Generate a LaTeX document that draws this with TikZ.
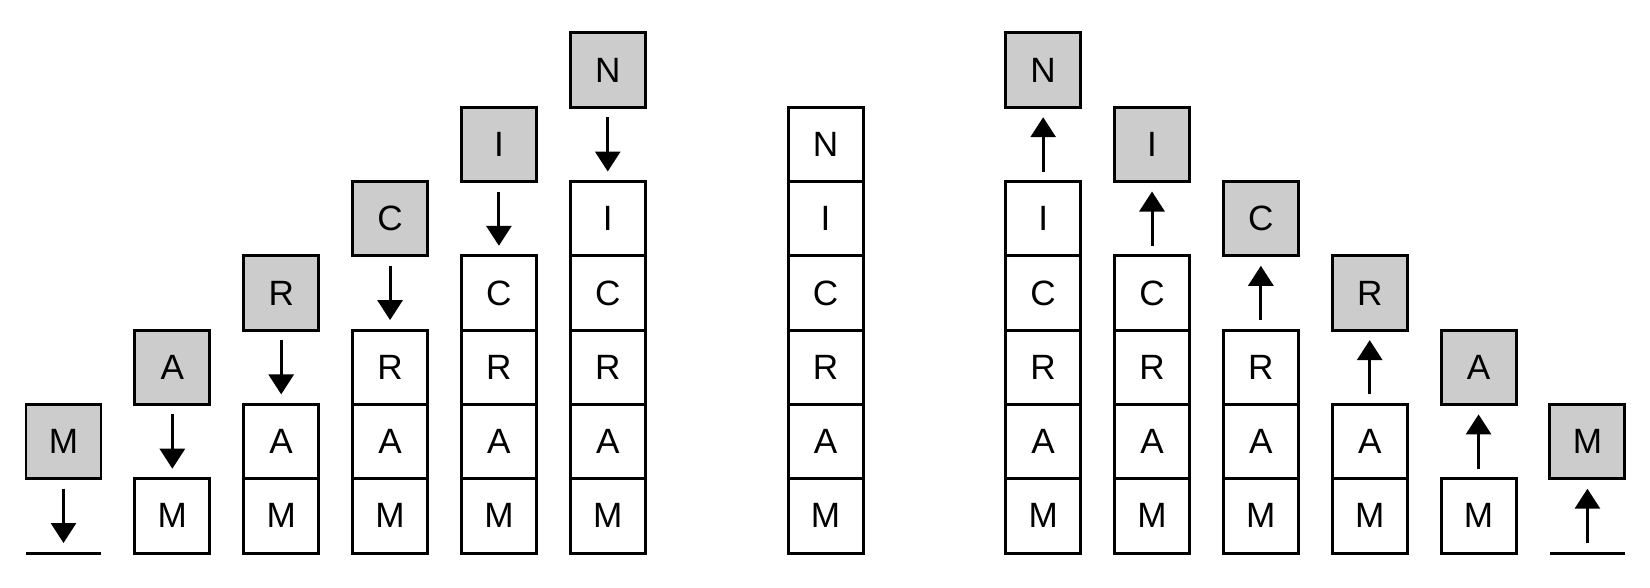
\documentclass[tikz,border=0pt]{standalone}
\usepackage{fontspec}
\setmainfont{Liberation Sans}
\usetikzlibrary{arrows.meta, positioning}

\begin{document}
\begin{tikzpicture}[
  box/.style={draw, line width=1.7pt, outer sep=0pt, inner sep=0pt,
    minimum width=1.5cm, minimum height=1.486cm, font=\fontsize{20}{24}\selectfont},
  pending/.style={box, fill=black!20},
  move/.style={line width=1.7pt, shorten <=0.2cm, shorten >=0.2cm,
    -{Triangle[width=0.5cm, length=0.4cm]}}
]
  \useasboundingbox (0,0) rectangle (33,11.74);

  % pushing M, A, R, C, I, N
  \foreach \col in {1,...,6} {
    \pgfmathsetmacro{\x}{1.27+(\col-1)*2.177}
    \pgfmathsetmacro{\ytop}{0.68+(\col-1)*1.486}
    \coordinate (intop\col) at (\x,\ytop);
    \foreach \ltr [count=\row from 0] in {M,A,R,C,I,N} {
      \pgfmathsetmacro{\y}{0.68+(\row+0.5)*1.486}
      \ifnum\row<\numexpr\col-1\relax
        \node[box] (in\col-\row) at (\x,\y) {\ltr};
      \fi
      \ifnum\row=\numexpr\col-1\relax
        \node[pending] (push\col) at (\x,\y+1.486) {\ltr};
      \fi
    }
    \draw[move] (push\col) -- (intop\col);
  }
  \draw[line width=1.7pt] ([xshift=-0.75cm]intop1) -- ([xshift=0.75cm]intop1);

  % full stack
  \foreach \ltr [count=\row from 0] in {M,A,R,C,I,N}
    \node[box] (full-\row) at (16.51, {0.68+(\row+0.5)*1.486}) {\ltr};

  % popping N, I, C, R, A, M
  \foreach \col in {1,...,6} {
    \pgfmathsetmacro{\x}{1.27+(15-\col)*2.177}
    \pgfmathsetmacro{\ytop}{0.68+(\col-1)*1.486}
    \coordinate (outtop\col) at (\x,\ytop);
    \foreach \ltr [count=\row from 0] in {M,A,R,C,I,N} {
      \pgfmathsetmacro{\y}{0.68+(\row+0.5)*1.486}
      \ifnum\row<\numexpr\col-1\relax
        \node[box] (out\col-\row) at (\x,\y) {\ltr};
      \fi
      \ifnum\row=\numexpr\col-1\relax
        \node[pending] (pop\col) at (\x,\y+1.486) {\ltr};
      \fi
    }
    \draw[move] (outtop\col) -- (pop\col);
  }
  \draw[line width=1.7pt] ([xshift=-0.75cm]outtop1) -- ([xshift=0.75cm]outtop1);
\end{tikzpicture}
\end{document}
